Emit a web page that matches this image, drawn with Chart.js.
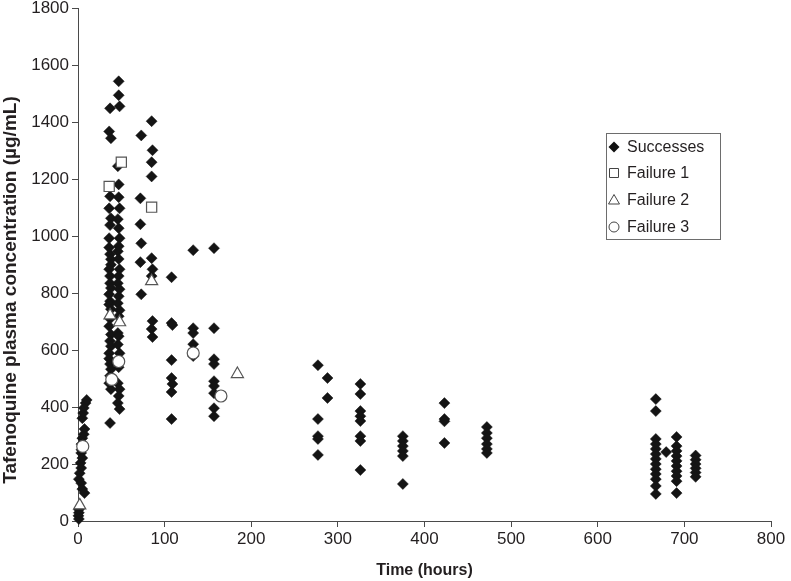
<!DOCTYPE html>
<html lang="en">
<head>
    <meta charset="UTF-8">
    <title>Tafenoquine plasma concentration</title>
    <style>
        html, body { margin: 0; padding: 0; background: #fff; }
        #wrap { width: 791px; height: 581px; }
    </style>
</head>
<body>
    <div id="wrap"><canvas id="pkChart" width="791" height="581"></canvas></div>

    <script src="https://cdn.jsdelivr.net/npm/chart.js"></script>
    <script>
        // [time (hours), concentration]
        const successes = [
            // day 0 samples
            [0.5, 18], [1, 7], [1, 29], [1, 40], [1, 147], [2, 168], [3, 204], [3.7, 186], [3.7, 133], [3.7, 239],
            [4, 250], [4, 270], [5, 221], [5, 112], [5, 291], [5, 361], [6, 379], [6.7, 305], [6.7, 397],
            [7.5, 323], [7.5, 98], [8.7, 414], [10, 425],
            // ~37 h
            [37, 1449], [36, 1368], [38, 1344], [37, 1140], [36, 1098], [38, 1063], [37, 1039], [36, 993],
            [36, 960], [37, 937], [38, 919], [38, 900], [36, 884], [37, 860], [37, 835], [38, 818], [36, 796],
            [37, 772], [36, 760], [38, 744], [37, 710], [36, 684], [38, 655], [37, 632], [38, 614], [36, 589],
            [36, 570], [37, 551], [38, 533], [37, 510], [36, 484], [38, 463], [37, 344],
            // ~47 h
            [47, 1544], [47, 1495], [48, 1456], [46, 1246], [47, 1182], [47, 1137], [48, 1098], [46, 1060],
            [47, 1028], [48, 993], [47, 965], [46, 947], [47, 920], [48, 884], [47, 860], [46, 835], [48, 814],
            [47, 789], [46, 765], [48, 740], [47, 719], [46, 660], [47, 649], [46, 620], [48, 589], [47, 540],
            [46, 484], [48, 463], [47, 439], [46, 414], [48, 393],
            // ~73 h and ~85 h
            [73, 1354], [72, 1133], [72, 1042], [73, 975], [72, 909], [73, 796],
            [85, 1404], [86, 1302], [85, 1260], [85, 1210], [85, 923], [86, 884], [85, 860], [86, 702], [85, 674], [86, 646],
            // ~108, 133, 157 h
            [108, 856], [108, 695], [109, 688], [108, 565], [108, 502], [109, 481], [108, 453], [108, 358],
            [133, 951], [133, 677], [133, 660], [133, 621], [133, 579],
            [157, 958], [157, 677], [157, 568], [157, 551], [157, 491], [157, 474], [157, 449], [157, 396], [157, 368],
            // later visits
            [277, 547], [277, 358], [277, 298], [277, 288], [277, 232],
            [288, 502], [288, 432],
            [326, 481], [326, 446], [326, 386], [326, 368], [326, 351], [326, 298], [326, 281], [326, 179],
            [375, 298], [375, 281], [375, 263], [375, 246], [375, 228], [375, 130],
            [423, 414], [423, 358], [423, 350], [423, 274],
            [472, 330], [472, 309], [472, 291], [472, 270], [472, 253], [472, 239],
            [667, 428], [667, 386], [667, 288], [667, 270], [667, 253], [667, 235], [667, 218], [667, 200],
            [667, 182], [667, 165], [667, 147], [667, 123], [667, 95],
            [679, 242],
            [691, 295], [691, 263], [691, 246], [691, 228], [691, 211], [691, 193], [691, 175], [691, 158], [691, 140], [691, 98],
            [713, 230], [713, 215], [713, 200], [713, 185], [713, 170], [713, 155]
        ];
        const failure1 = [[36, 1175], [50, 1260], [85, 1102]];
        const failure2 = [[2, 55], [37, 722], [48, 698], [85, 842], [184, 516]];
        const failure3 = [[5.5, 262], [47, 560], [39, 497], [133, 590], [165, 439]];

        const seriesLabels = ['Successes', 'Failure 1', 'Failure 2', 'Failure 3'];
        const xTicks = { min: 0, max: 800, step: 100 };
        const yTicks = { min: 0, max: 1800, step: 200 };
        const yTitle = 'Tafenoquine plasma concentration (µg/mL)';

        const toPoints = arr => arr.map(p => ({ x: p[0], y: p[1] }));
        const axisColor = '#4a4a4a';
        const textColor = '#231f20';
        const fam = '"Liberation Sans", Arial, sans-serif';

        // legend box inside the plot + the y title, sat a bit low like the original
        const boxLegend = {
            id: 'boxLegend',
            afterDraw(chart) {
                const ctx = chart.ctx;
                const left = 606, top = 133, w = 114, h = 106;
                ctx.save();
                ctx.strokeStyle = '#6d6d6d';
                ctx.lineWidth = 1;
                ctx.strokeRect(left + 0.5, top + 0.5, w, h);
                ctx.font = '16px ' + fam;
                ctx.textBaseline = 'middle';
                const rows = [147, 173, 200, 227];
                rows.forEach((cy, i) => {
                    const cx = 614;
                    ctx.beginPath();
                    if (i === 0) {
                        ctx.moveTo(cx, cy - 5.5); ctx.lineTo(cx + 5.5, cy); ctx.lineTo(cx, cy + 5.5); ctx.lineTo(cx - 5.5, cy);
                        ctx.closePath();
                        ctx.fillStyle = '#111';
                        ctx.fill();
                    } else {
                        ctx.strokeStyle = '#444';
                        if (i === 1) ctx.rect(cx - 4.5, cy - 4.5, 9, 9);
                        if (i === 2) { ctx.moveTo(cx, cy - 5.5); ctx.lineTo(cx + 5.5, cy + 4); ctx.lineTo(cx - 5.5, cy + 4); ctx.closePath(); }
                        if (i === 3) ctx.arc(cx, cy, 5, 0, Math.PI * 2);
                        ctx.stroke();
                    }
                    ctx.fillStyle = textColor;
                    ctx.fillText(seriesLabels[i], 627, cy + 1);
                });

                // y axis title
                ctx.translate(11, 290);
                ctx.rotate(-Math.PI / 2);
                ctx.font = 'bold 19px ' + fam;
                ctx.textAlign = 'center';
                ctx.fillText(yTitle, 0, 0);
                ctx.restore();
            }
        };

        new Chart(document.getElementById('pkChart'), {
            type: 'scatter',
            data: {
                datasets: [
                    { label: seriesLabels[0], data: toPoints(successes), order: 2, clip: false,
                      pointStyle: 'rectRot', pointRadius: 5.5, backgroundColor: '#141414', borderColor: '#141414', borderWidth: 0.5 },
                    { label: seriesLabels[1], data: toPoints(failure1), order: 1, clip: false,
                      pointStyle: 'rect', pointRadius: 7.2, backgroundColor: '#fff', borderColor: '#555', borderWidth: 1.2 },
                    { label: seriesLabels[2], data: toPoints(failure2), order: 1, clip: false,
                      pointStyle: 'triangle', pointRadius: 7, backgroundColor: '#fff', borderColor: '#555', borderWidth: 1.2 },
                    { label: seriesLabels[3], data: toPoints(failure3), order: 1, clip: false,
                      pointStyle: 'circle', pointRadius: 6, backgroundColor: '#fff', borderColor: '#555', borderWidth: 1.2 }
                ]
            },
            options: {
                responsive: false,
                animation: false,
                layout: { padding: { top: 7, right: 20, bottom: 0, left: 0 } },
                plugins: { legend: { display: false }, tooltip: { enabled: false } },
                scales: {
                    x: {
                        type: 'linear', min: xTicks.min, max: xTicks.max,
                        afterFit: s => { s.height = 60; },
                        ticks: { stepSize: xTicks.step, color: textColor, padding: 2,
                                 callback: v => String(v),
                                 font: { family: fam, size: 17 } },
                        grid: { drawOnChartArea: false, drawTicks: true, tickLength: 6, color: axisColor },
                        border: { color: axisColor, width: 1 },
                        title: { display: true, text: 'Time (hours)', color: textColor, padding: { top: 0, bottom: 1 },
                                 font: { family: fam, size: 16, weight: 'bold' } }
                    },
                    y: {
                        type: 'linear', min: yTicks.min, max: yTicks.max,
                        afterFit: s => { s.width = 78; s.paddingTop = 0; s.paddingBottom = 0; },
                        ticks: { stepSize: yTicks.step, color: textColor, padding: 3,
                                 callback: v => String(v),
                                 font: { family: fam, size: 17 } },
                        grid: { drawOnChartArea: false, drawTicks: true, tickLength: 6, color: axisColor },
                        border: { color: axisColor, width: 1 }
                    }
                }
            },
            plugins: [boxLegend]
        });
    </script>
</body>
</html>
